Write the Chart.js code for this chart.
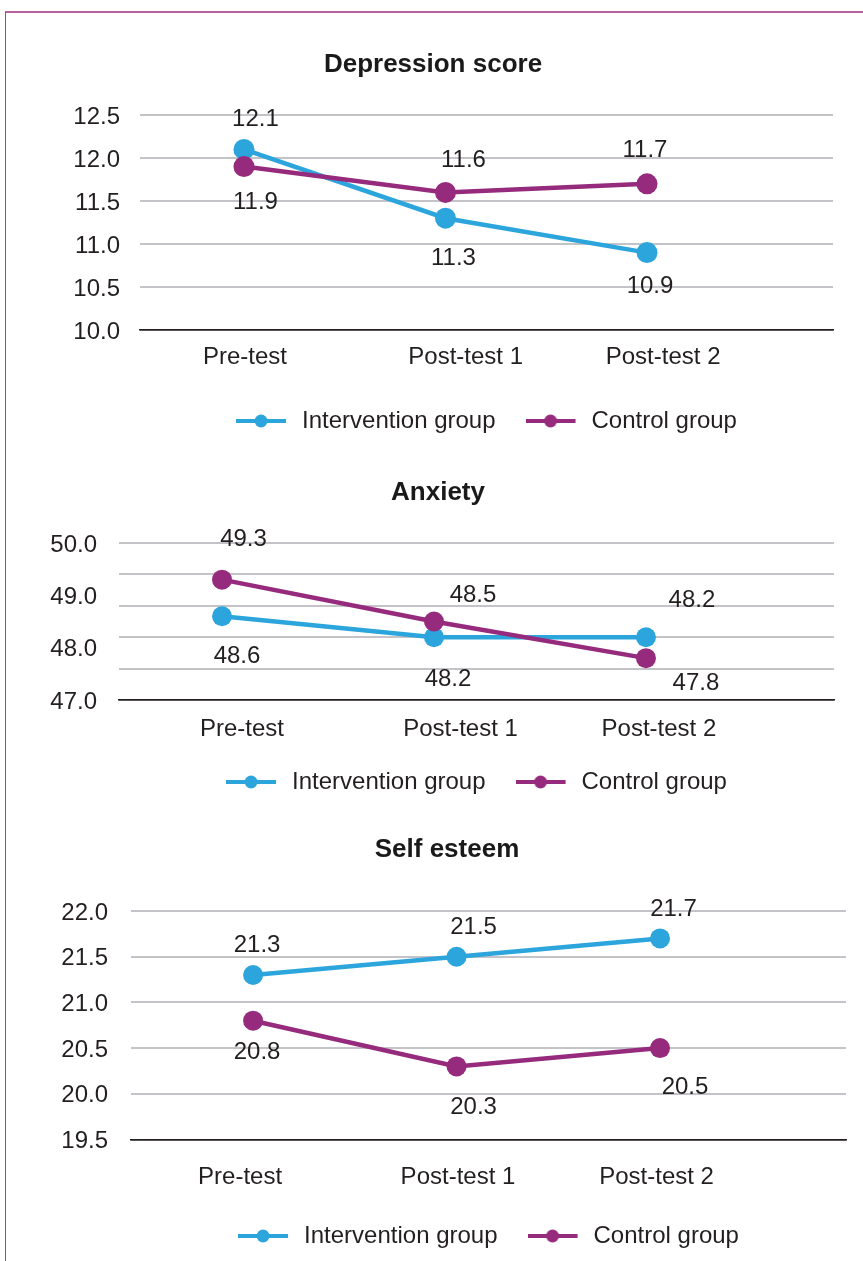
<!DOCTYPE html>
<html>
<head>
<meta charset="utf-8">
<title>Depression, anxiety and self esteem scores</title>
<script src="https://cdn.jsdelivr.net/npm/chart.js@4.4.1/dist/chart.umd.min.js"></script>
<style>
  html, body { margin: 0; padding: 0; background: #ffffff; overflow: hidden; }
  body { width: 863px; height: 1261px; position: relative; }
  #frame {
    position: absolute; left: 5px; top: 11px; right: -4px; bottom: -4px;
    border-top: 2px solid #b8619f; border-left: 1px solid #a8428f;
  }
  canvas { position: absolute; left: 0; }
</style>
</head>
<body>
<div id="frame"></div>
<canvas id="depression" width="863" height="423" style="top:20px"></canvas>
<canvas id="anxiety" width="863" height="354" style="top:450px"></canvas>
<canvas id="esteem" width="863" height="450" style="top:808px"></canvas>
<script>
// ---- data ----
const categories = ['Pre-test', 'Post-test 1', 'Post-test 2'];
const seriesNames = ['Intervention group', 'Control group'];

const depressionIntervention = [12.1, 11.3, 10.9];
const depressionControl = [11.9, 11.6, 11.7];
const depressionTicks = [10.0, 10.5, 11.0, 11.5, 12.0, 12.5];

const anxietyIntervention = [48.6, 48.2, 48.2];
const anxietyControl = [49.3, 48.5, 47.8];
const anxietyTicks = [47.0, 48.0, 49.0, 50.0];
const anxietyGrid = [47.0, 47.6, 48.2, 48.8, 49.4, 50.0];

const esteemIntervention = [21.3, 21.5, 21.7];
const esteemControl = [20.8, 20.3, 20.5];
const esteemTicks = [19.5, 20.0, 20.5, 21.0, 21.5, 22.0];

// ---- styling ----
const BLUE = '#2ca5dd';
const PURPLE = '#962b7d';
const GRID = '#c3c3c8';
const INK = '#231f20';
const FONT = "'Liberation Sans', Arial, Helvetica, sans-serif";

Chart.defaults.font.family = FONT;
Chart.defaults.font.size = 24;
Chart.defaults.color = INK;

// legend swatch: short line with a dot in the middle
function legendSwatch(color) {
  const c = document.createElement('canvas');
  c.width = 54; c.height = 24;
  const g = c.getContext('2d');
  g.strokeStyle = color;
  g.lineWidth = 4;
  g.beginPath(); g.moveTo(0, 12); g.lineTo(50, 12); g.stroke();
  g.fillStyle = color;
  g.beginPath(); g.arc(25, 12, 6.5, 0, Math.PI * 2); g.fill();
  return c;
}
const swatches = [legendSwatch(BLUE), legendSwatch(PURPLE)];

// value labels next to each point
const valueLabels = {
  id: 'valueLabels',
  afterDatasetsDraw(chart, args, opts) {
    const ctx = chart.ctx;
    ctx.save();
    ctx.font = '24px ' + FONT;
    ctx.fillStyle = INK;
    ctx.textAlign = 'center';
    ctx.textBaseline = 'middle';
    chart.data.datasets.forEach((ds, di) => {
      const meta = chart.getDatasetMeta(di);
      meta.data.forEach((pt, i) => {
        const off = opts.offsets[di][i];
        ctx.fillText(ds.data[i].y.toFixed(1), pt.x + off[0], pt.y + off[1] + 2);
      });
    });
    ctx.restore();
  }
};

function series(name, values, color, radius, order) {
  return {
    label: name,
    data: values.map((v, i) => ({ x: i, y: v })),
    borderColor: color,
    backgroundColor: color,
    borderWidth: 4.5,
    pointRadius: radius,
    pointHoverRadius: radius,
    pointBackgroundColor: color,
    pointBorderWidth: 0,
    tension: 0,
    order: order
  };
}

function makeChart(id, cfg) {
  const labelSet = new Set(cfg.yLabels);
  const gridSet = new Set(cfg.yGrid);
  const allY = Array.from(new Set(cfg.yGrid.concat(cfg.yLabels))).sort((a, b) => a - b);
  const yMin = allY[0], yMax = allY[allY.length - 1];

  return new Chart(document.getElementById(id), {
    type: 'line',
    data: {
      datasets: [
        series(seriesNames[0], cfg.values[0], BLUE, cfg.radius, 1),
        series(seriesNames[1], cfg.values[1], PURPLE, cfg.radius, 0)
      ]
    },
    plugins: [valueLabels],
    options: {
      responsive: false,
      animation: false,
      events: [],
      layout: { padding: { left: cfg.padL, right: cfg.padR, top: 0, bottom: 0 } },
      scales: {
        x: {
          type: 'linear',
          min: cfg.xMin,
          max: cfg.xMax,
          afterBuildTicks: s => { s.ticks = cfg.labelAt.map(v => ({ value: v })); },
          afterFit: s => { s.height = cfg.xHeight; },
          ticks: {
            autoSkip: false,
            maxRotation: 0,
            padding: cfg.xPad,
            color: INK,
            callback: (v, i) => categories[i]
          },
          grid: { display: false, drawTicks: false },
          border: { display: true, color: INK, width: 1.5 }
        },
        y: {
          min: yMin,
          max: yMax,
          afterBuildTicks: s => { s.ticks = allY.map(v => ({ value: v })); },
          afterFit: s => { s.width = cfg.yWidth; },
          ticks: {
            autoSkip: false,
            padding: cfg.yPad,
            labelOffset: 2,
            color: INK,
            callback: v => labelSet.has(v) ? v.toFixed(1) : ''
          },
          grid: {
            drawTicks: false,
            color: c => {
              if (!c.tick || !gridSet.has(c.tick.value)) return 'rgba(0,0,0,0)';
              return c.tick.value === yMin ? INK : GRID;
            },
            lineWidth: c => (c.tick && c.tick.value === yMin) ? 1.5 : 2
          },
          border: { display: false }
        }
      },
      plugins: {
        title: {
          display: true,
          text: cfg.title,
          color: '#1a1a1a',
          font: { size: 26, weight: 'bold', family: FONT },
          padding: { top: cfg.titleTop + 2, bottom: cfg.titleBottom - 2 }
        },
        legend: {
          position: 'bottom',
          fullSize: false,
          labels: {
            usePointStyle: true,
            pointStyleWidth: 54,
            padding: 30,
            color: INK,
            font: { size: 24 },
            generateLabels: chart => {
              const items = Chart.defaults.plugins.legend.labels.generateLabels(chart);
              items.sort((a, b) => a.datasetIndex - b.datasetIndex);
              items.forEach(it => { it.pointStyle = swatches[it.datasetIndex]; it.rotation = 0; });
              return items;
            }
          }
        },
        tooltip: { enabled: false },
        valueLabels: { offsets: cfg.offsets }
      }
    }
  });
}

makeChart('depression', {
  title: 'Depression score',
  values: [depressionIntervention, depressionControl],
  yLabels: depressionTicks,
  yGrid: depressionTicks,
  radius: 10.5,
  padL: 33, padR: 30, yWidth: 107, yPad: 20,
  titleTop: 27.4, titleBottom: 36.4,
  xMin: -0.516, xMax: 2.923, labelAt: [0.005, 1.1, 2.08],
  xPad: 13, xHeight: 49,
  offsets: [
    [[11.5, -32], [8, 38], [3, 32]],
    [[11.5, 33.4], [18, -34.4], [-2, -35.8]]
  ]
});

makeChart('anxiety', {
  title: 'Anxiety',
  values: [anxietyIntervention, anxietyControl],
  yLabels: anxietyTicks,
  yGrid: anxietyGrid,
  radius: 10,
  padL: 42, padR: 29, yWidth: 77, yPad: 22,
  titleTop: 25.4, titleBottom: 36.4,
  xMin: -0.486, xMax: 2.887, labelAt: [0.094, 1.125, 2.061],
  xPad: 15, xHeight: 40,
  offsets: [
    [[15, 38], [14, 40], [46, -39]],
    [[21.5, -42.6], [39, -28.5], [50, 23]]
  ]
});

makeChart('esteem', {
  title: 'Self esteem',
  values: [esteemIntervention, esteemControl],
  yLabels: esteemTicks,
  yGrid: esteemTicks,
  radius: 10,
  padL: 48, padR: 17, yWidth: 83, yPad: 23,
  titleTop: 24.4, titleBottom: 47.4,
  xMin: -0.6, xMax: 2.914, labelAt: [-0.064, 1.007, 1.983],
  xPad: 23, xHeight: 54.5,
  offsets: [
    [[4, -32], [17, -31.7], [13.5, -31.4]],
    [[4, 29.3], [17, 38.6], [25, 37]]
  ]
});
</script>
</body>
</html>
